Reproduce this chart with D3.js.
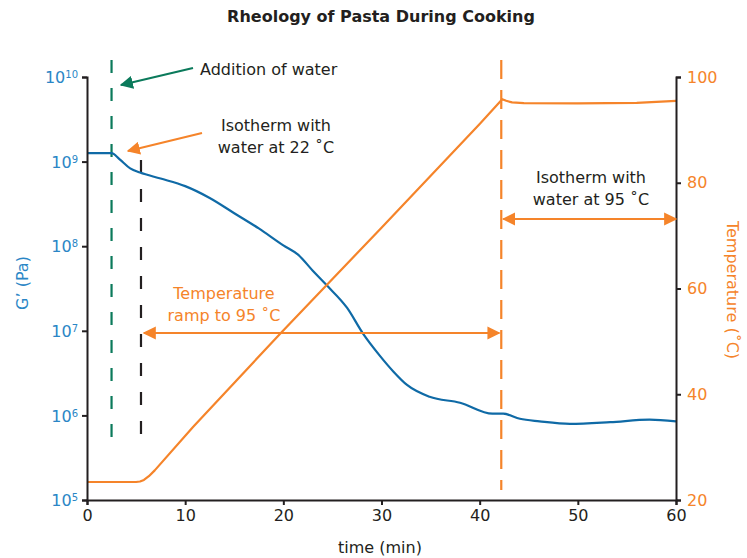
<!DOCTYPE html>
<head>
  <meta charset="utf-8">
  <script src="https://d3js.org/d3.v7.min.js"></script>
<style>
    body { margin: 0; background: #fff; }
    text { font-family: "DejaVu Sans", sans-serif; }
</style>
</head>

<body>
  <script>

// data
var gTime = [0, 2.5, 3.3, 4.4, 5.4, 7.5, 10, 12.5, 15, 17.5, 20, 21.5, 23, 24.4, 26.5, 28.1, 29.8, 31.2, 32.6, 34.9, 38.0, 41.3, 42.4, 44.1, 46.1, 49.2, 53.3, 57.3, 60];
var gValue = [9.10, 9.10, 9.03, 8.92, 8.87, 8.80, 8.71, 8.57, 8.39, 8.21, 8.01, 7.90, 7.71, 7.54, 7.27, 6.97, 6.71, 6.52, 6.36, 6.22, 6.15, 6.02, 6.02, 5.96, 5.93, 5.90, 5.92, 5.95, 5.93];

var tTime = [0, 5.0, 5.4, 5.8, 6.3, 6.9, 10.8, 19.7, 30, 40, 42.3, 42.7, 43.3, 44.5, 50, 56, 60];
var tValue = [23.4, 23.4, 23.5, 23.8, 24.5, 25.6, 33.8, 51.5, 71.5, 91.1, 95.8, 95.5, 95.2, 95.05, 95.0, 95.1, 95.5];

var xTicks = [0, 10, 20, 30, 40, 50, 60];
var yLeftExp = [5, 6, 7, 8, 9, 10];
var yRightTicks = [20, 40, 60, 80, 100];

var blue = "#0f6aa6";
var blueText = "#2a86c6";
var orange = "#f5842a";
var green = "#0b7a5b";
var ink = "#231f20";

var width = 747;
var height = 558;

var svg = d3.select("body")
    .append("svg")
    .attr("width", width)
    .attr("height", height);

var x = d3.scaleLinear().domain([0, 60]).range([87, 676]);
var yL = d3.scaleLog().domain([1e5, 1e10]).range([500, 77]);
var yR = d3.scaleLinear().domain([20, 100]).range([500, 77]);

// arrow heads
var defs = svg.append("defs");
function marker(id, color) {
    defs.append("marker")
        .attr("id", id)
        .attr("viewBox", "0 0 10 10")
        .attr("refX", 9)
        .attr("refY", 5)
        .attr("markerWidth", 6)
        .attr("markerHeight", 6)
        .attr("markerUnits", "strokeWidth")
        .attr("orient", "auto-start-reverse")
        .append("path")
        .attr("d", "M0,0 L10,5 L0,10 z")
        .attr("fill", color);
}
marker("arrO", orange);
marker("arrG", green);

// title
svg.append("text")
    .attr("x", 381)
    .attr("y", 22)
    .attr("text-anchor", "middle")
    .attr("font-size", 16)
    .attr("font-weight", "bold")
    .attr("fill", ink)
    .text("Rheology of Pasta During Cooking");

// dashed markers
svg.append("line")
    .attr("x1", x(2.5)).attr("x2", x(2.5))
    .attr("y1", 60).attr("y2", 452)
    .attr("stroke", green).attr("stroke-width", 2.2)
    .attr("stroke-dasharray", "13,15");

svg.append("line")
    .attr("x1", x(5.5)).attr("x2", x(5.5))
    .attr("y1", 160).attr("y2", 441)
    .attr("stroke", ink).attr("stroke-width", 2.2)
    .attr("stroke-dasharray", "13,16");

svg.append("line")
    .attr("x1", x(42.2)).attr("x2", x(42.2))
    .attr("y1", 60).attr("y2", 490)
    .attr("stroke", orange).attr("stroke-width", 2.2)
    .attr("stroke-dasharray", "19,11");

// curves
var lineG = d3.line()
    .x(function (d, i) { return x(gTime[i]); })
    .y(function (d) { return yL(Math.pow(10, d)); })
    .curve(d3.curveMonotoneX);

svg.append("path")
    .attr("d", lineG(gValue))
    .attr("fill", "none")
    .attr("stroke", blue)
    .attr("stroke-width", 2.2);

var lineT = d3.line()
    .x(function (d, i) { return x(tTime[i]); })
    .y(function (d) { return yR(d); });

svg.append("path")
    .attr("d", lineT(tValue))
    .attr("fill", "none")
    .attr("stroke", orange)
    .attr("stroke-width", 2.2)
    .attr("stroke-linejoin", "round");

// axes
var gx = svg.append("g")
    .attr("transform", "translate(0,500)")
    .call(d3.axisBottom(x).tickValues(xTicks).tickSize(5).tickPadding(5));
gx.selectAll("text").attr("font-size", 16).attr("fill", ink)
    .style("font-family", "'DejaVu Sans', sans-serif");

var gl = svg.append("g")
    .attr("transform", "translate(87,0)")
    .call(d3.axisLeft(yL).tickValues(yLeftExp.map(function (e) { return Math.pow(10, e); }))
        .tickSize(5).tickFormat(""));

gl.selectAll(".tick").append("text")
    .attr("x", -9)
    .attr("dy", "0.35em")
    .attr("text-anchor", "end")
    .attr("fill", blueText)
    .attr("font-size", 16)
    .each(function (d) {
        var t = d3.select(this);
        t.append("tspan").text("10");
        t.append("tspan").attr("dy", "-0.5em").attr("font-size", 10)
            .text(Math.round(Math.log10(d)));
    });

var gr = svg.append("g")
    .attr("transform", "translate(676,0)")
    .call(d3.axisRight(yR).tickValues(yRightTicks).tickSize(5).tickPadding(6));
gr.selectAll("text").attr("font-size", 16).attr("fill", orange)
    .style("font-family", "'DejaVu Sans', sans-serif");

[gx, gl, gr].forEach(function (g) {
    g.select(".domain").attr("stroke", ink).attr("stroke-width", 2);
    g.selectAll(".tick line").attr("stroke", ink).attr("stroke-width", 2);
});

// axis titles
svg.append("text")
    .attr("x", 380)
    .attr("y", 553)
    .attr("text-anchor", "middle")
    .attr("font-size", 16)
    .attr("fill", ink)
    .text("time (min)");

svg.append("text")
    .attr("transform", "translate(28,283) rotate(-90)")
    .attr("text-anchor", "middle")
    .attr("font-size", 16)
    .attr("fill", blueText)
    .text("G\u2019 (Pa)");

svg.append("text")
    .attr("transform", "translate(727,290) rotate(90)")
    .attr("text-anchor", "middle")
    .attr("font-size", 16)
    .attr("fill", orange)
    .text("Temperature (\u02DAC)");

// annotations
svg.append("line")
    .attr("x1", 193).attr("y1", 68)
    .attr("x2", 121).attr("y2", 85)
    .attr("stroke", green).attr("stroke-width", 2.2)
    .attr("marker-end", "url(#arrG)");

svg.append("text")
    .attr("x", 200).attr("y", 75)
    .attr("font-size", 16).attr("fill", ink)
    .text("Addition of water");

svg.append("line")
    .attr("x1", 202).attr("y1", 133)
    .attr("x2", 128).attr("y2", 151)
    .attr("stroke", orange).attr("stroke-width", 2.2)
    .attr("marker-end", "url(#arrO)");

function label(cx, y1, lines, color) {
    svg.append("text")
        .attr("text-anchor", "middle")
        .attr("font-size", 16)
        .attr("fill", color)
        .selectAll("tspan")
        .data(lines)
        .enter()
        .append("tspan")
        .attr("x", cx)
        .attr("y", function (d, i) { return y1 + i * 22; })
        .text(function (d) { return d; });
}

label(276, 131, ["Isotherm with", "water at 22 \u02DAC"], ink);
label(224, 299, ["Temperature", "ramp to 95 \u02DAC"], orange);
label(591, 183, ["Isotherm with", "water at 95 \u02DAC"], ink);

svg.append("line")
    .attr("x1", x(5.8)).attr("y1", 333)
    .attr("x2", x(42.0)).attr("y2", 333)
    .attr("stroke", orange).attr("stroke-width", 2.2)
    .attr("marker-start", "url(#arrO)")
    .attr("marker-end", "url(#arrO)");

svg.append("line")
    .attr("x1", x(42.4)).attr("y1", 219)
    .attr("x2", x(60)).attr("y2", 219)
    .attr("stroke", orange).attr("stroke-width", 2.2)
    .attr("marker-start", "url(#arrO)")
    .attr("marker-end", "url(#arrO)");

  </script>
</body>
